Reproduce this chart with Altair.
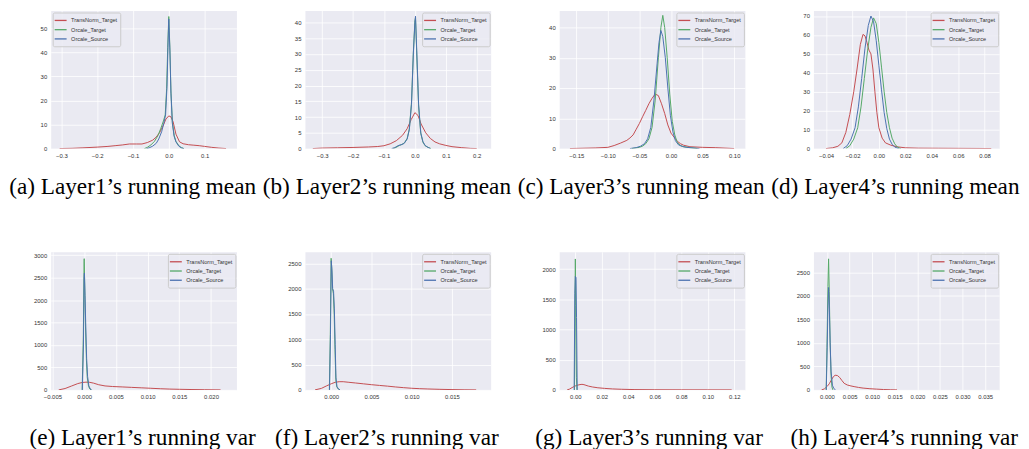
import altair as alt
import pandas as pd

SERIES = ["TransNorm_Target", "Orcale_Target", "Orcale_Source"]
COLORS = ["#C44E52", "#55A868", "#4C72B0"]

# ---------------- (a) Layer1 running mean ----------------
a_red_x = [-0.305, -0.27, -0.24, -0.2, -0.17, -0.15, -0.13, -0.11, -0.09, -0.075, -0.06, -0.045, -0.035, -0.025, -0.015, -0.008, 0.0, 0.006, 0.012, 0.02, 0.03, 0.04, 0.055, 0.07, 0.085, 0.1, 0.12, 0.14, 0.16]
a_red_y = [0.0, 0.1, 0.3, 0.6, 0.9, 1.2, 1.5, 1.9, 1.9, 1.9, 2.5, 3.5, 4.8, 6.8, 9.8, 12.3, 13.6, 13.2, 11.2, 6.0, 2.8, 2.0, 1.6, 1.4, 1.2, 0.9, 0.5, 0.2, 0.0]
a_green_x = [-0.068, -0.06, -0.05, -0.04, -0.03, -0.022, -0.015, -0.01, -0.006, -0.003, 0.0, 0.003, 0.006, 0.01, 0.015, 0.02, 0.028, 0.035, 0.042]
a_green_y = [0.0, 0.5, 1.5, 3.0, 5.5, 8.5, 11.5, 14.0, 25.0, 42.0, 55.0, 42.0, 24.0, 11.0, 5.5, 3.0, 1.2, 0.4, 0.0]
a_blue_x = [-0.062, -0.055, -0.045, -0.035, -0.028, -0.02, -0.014, -0.009, -0.005, -0.002, 0.0, 0.003, 0.006, 0.01, 0.015, 0.02, 0.028, 0.035, 0.042]
a_blue_y = [0.0, 0.3, 1.0, 2.2, 4.0, 7.0, 10.5, 14.0, 26.0, 44.0, 54.0, 41.0, 23.0, 10.5, 5.0, 2.8, 1.0, 0.3, 0.0]

# ---------------- (b) Layer2 running mean ----------------
b_red_x = [-0.33, -0.3, -0.25, -0.2, -0.15, -0.12, -0.1, -0.08, -0.06, -0.04, -0.025, -0.012, 0.0, 0.01, 0.02, 0.035, 0.05, 0.065, 0.08, 0.1, 0.12, 0.15, 0.18, 0.2]
b_red_y = [0.0, 0.15, 0.25, 0.35, 0.5, 0.65, 0.9, 1.5, 2.5, 4.2, 6.3, 9.2, 11.4, 10.5, 7.8, 5.0, 3.2, 2.1, 1.5, 1.0, 0.6, 0.3, 0.05, 0.0]
b_green_x = [-0.07, -0.06, -0.05, -0.042, -0.034, -0.025, -0.018, -0.011, -0.005, 0.0, 0.002, 0.006, 0.012, 0.019, 0.026, 0.033, 0.042, 0.052]
b_green_y = [0.0, 0.4, 1.0, 1.3, 1.8, 3.2, 6.2, 14.5, 30.5, 40.5, 41.5, 30.0, 13.5, 4.8, 2.0, 0.9, 0.4, 0.0]
b_blue_x = [-0.075, -0.065, -0.055, -0.045, -0.035, -0.025, -0.018, -0.011, -0.005, 0.0, 0.002, 0.006, 0.012, 0.019, 0.026, 0.033, 0.042, 0.05]
b_blue_y = [0.0, 0.3, 0.9, 1.2, 1.6, 3.0, 6.0, 14.0, 30.0, 40.0, 42.0, 31.0, 14.0, 5.0, 2.2, 1.0, 0.4, 0.0]

# ---------------- (c) Layer3 running mean ----------------
c_red_x = [-0.16, -0.12, -0.1, -0.09, -0.08, -0.07, -0.065, -0.06, -0.055, -0.05, -0.045, -0.04, -0.035, -0.03, -0.025, -0.02, -0.015, -0.01, -0.005, 0.0, 0.005, 0.01, 0.015, 0.02, 0.03, 0.05, 0.07, 0.1]
c_red_y = [0.0, 0.2, 0.4, 1.0, 1.8, 2.7, 3.5, 4.5, 6.4, 8.3, 10.5, 12.6, 14.8, 16.6, 18.0, 17.5, 14.8, 11.6, 7.8, 5.1, 3.7, 2.4, 1.6, 1.1, 0.6, 0.4, 0.3, 0.0]
c_green_x = [-0.062, -0.05, -0.045, -0.04, -0.035, -0.03, -0.025, -0.02, -0.016, -0.013, -0.01, -0.006, -0.002, 0.002, 0.006, 0.01, 0.015, 0.02, 0.03, 0.042]
c_green_y = [0.0, 0.4, 0.8, 1.6, 3.2, 7.0, 16.0, 30.0, 40.0, 44.0, 40.0, 30.0, 18.0, 9.0, 4.5, 2.0, 1.0, 0.6, 0.3, 0.0]
c_blue_x = [-0.065, -0.055, -0.048, -0.042, -0.037, -0.032, -0.027, -0.022, -0.019, -0.016, -0.013, -0.009, -0.005, -0.001, 0.003, 0.007, 0.012, 0.018, 0.025, 0.035, 0.045]
c_blue_y = [0.0, 0.3, 0.8, 1.6, 3.2, 7.0, 16.0, 28.0, 35.0, 39.0, 37.0, 30.0, 20.0, 11.0, 5.5, 2.6, 1.2, 0.7, 0.4, 0.2, 0.0]

# ---------------- (d) Layer4 running mean ----------------
d_red_x = [-0.04, -0.035, -0.031, -0.028, -0.025, -0.022, -0.019, -0.0165, -0.014, -0.012, -0.0105, -0.009, -0.0075, -0.006, -0.0045, -0.003, -0.0015, 0.0, 0.0025, 0.005, 0.009, 0.014, 0.02, 0.03, 0.045, 0.06, 0.075, 0.085]
d_red_y = [0.0, 0.4, 1.2, 3.0, 8.5, 18.0, 30.0, 42.0, 55.0, 60.3, 59.5, 56.0, 52.0, 50.0, 42.0, 30.0, 19.0, 11.0, 5.5, 3.0, 1.8, 0.9, 0.4, 0.2, 0.15, 0.1, 0.05, 0.0]
d_green_x = [-0.025, -0.022, -0.019, -0.016, -0.0135, -0.011, -0.0085, -0.006, -0.004, -0.002, 0.0, 0.002, 0.004, 0.006, 0.008, 0.01, 0.012, 0.014, 0.0165]
d_green_y = [0.0, 1.5, 5.0, 11.0, 22.0, 37.0, 52.0, 64.0, 69.0, 66.0, 56.0, 43.0, 30.0, 19.0, 11.0, 5.5, 2.5, 0.8, 0.0]
d_blue_x = [-0.027, -0.024, -0.021, -0.018, -0.0155, -0.013, -0.0105, -0.008, -0.006, -0.004, -0.002, 0.0, 0.002, 0.004, 0.006, 0.008, 0.01, 0.012, 0.015]
d_blue_y = [0.0, 1.5, 5.0, 11.0, 22.0, 37.0, 53.0, 65.0, 70.0, 67.0, 57.0, 44.0, 31.0, 19.0, 10.5, 5.0, 2.3, 0.8, 0.0]

# ---------------- (e) Layer1 running var ----------------
e_red_x = [-0.004, -0.003, -0.002, -0.001, -0.0003, 0.0003, 0.0009, 0.0015, 0.0023, 0.0033, 0.0045, 0.006, 0.0075, 0.009, 0.0105, 0.012, 0.0135, 0.015, 0.017, 0.019, 0.0215]
e_red_y = [0.0, 30.0, 85.0, 140.0, 165.0, 172.0, 168.0, 150.0, 115.0, 88.0, 75.0, 66.0, 56.0, 46.0, 36.0, 26.0, 18.0, 13.0, 8.0, 4.0, 0.0]
e_green_x = [-0.0003, -0.00012, 0.0, 0.00002, 0.00012, 0.00022, 0.00037, 0.0005, 0.0007, 0.0009, 0.0011]
e_green_y = [0.0, 1200.0, 2850.0, 2920.0, 2200.0, 1400.0, 650.0, 280.0, 80.0, 20.0, 0.0]
e_blue_x = [-0.00028, -0.0001, 0.0, 0.00005, 0.00015, 0.00025, 0.0004, 0.00055, 0.00075, 0.00095, 0.0012]
e_blue_y = [0.0, 1000.0, 2500.0, 2600.0, 2100.0, 1500.0, 700.0, 300.0, 90.0, 30.0, 0.0]

# ---------------- (f) Layer2 running var ----------------
f_red_x = [-0.002, -0.0012, -0.0006, 0.0, 0.0005, 0.001, 0.0015, 0.0022, 0.003, 0.004, 0.005, 0.006, 0.007, 0.008, 0.009, 0.01, 0.011, 0.012, 0.0135, 0.015, 0.0165, 0.018]
f_red_y = [0.0, 30.0, 77.0, 120.0, 150.0, 162.0, 162.0, 150.0, 137.0, 120.0, 103.0, 88.0, 74.0, 58.0, 44.0, 32.0, 24.0, 18.0, 11.0, 6.0, 2.0, 0.0]
f_green_x = [-0.00022, -0.0001, 0.0, 0.00008, 0.00017, 0.00028, 0.00038, 0.00048, 0.00058, 0.0007, 0.0009, 0.0011]
f_green_y = [0.0, 1100.0, 2600.0, 2400.0, 2000.0, 1900.0, 1500.0, 800.0, 200.0, 60.0, 15.0, 0.0]
f_blue_x = [-0.0002, -0.00008, 0.00002, 0.0001, 0.00019, 0.0003, 0.0004, 0.0005, 0.0006, 0.00072, 0.0009, 0.0011]
f_blue_y = [0.0, 1100.0, 2550.0, 2350.0, 2000.0, 1950.0, 1600.0, 900.0, 250.0, 70.0, 20.0, 0.0]

# ---------------- (g) Layer3 running var ----------------
g_red_x = [-0.0062, -0.0045, -0.0025, -0.001, 0.0005, 0.002, 0.0035, 0.005, 0.0065, 0.008, 0.01, 0.013, 0.017, 0.022, 0.028, 0.035, 0.045, 0.06, 0.08, 0.1, 0.118]
g_red_y = [0.0, 12.0, 38.0, 55.0, 70.0, 80.0, 88.0, 92.0, 87.0, 76.0, 62.0, 48.0, 35.0, 25.0, 16.0, 10.0, 5.0, 2.5, 1.2, 0.5, 0.0]
g_green_x = [-0.0006, -0.0002, 0.0, 0.0003, 0.0008, 0.0012]
g_green_y = [0.0, 1500.0, 2170.0, 1400.0, 200.0, 0.0]
g_blue_x = [-0.0009, -0.0004, 0.0, 0.0005, 0.0009, 0.0014]
g_blue_y = [0.0, 1600.0, 1880.0, 1860.0, 1200.0, 0.0]

# ---------------- (h) Layer4 running var ----------------
h_red_x = [-0.0012, -0.0006, 0.0, 0.0005, 0.001, 0.0014, 0.0018, 0.0023, 0.0028, 0.0033, 0.0038, 0.0045, 0.0053, 0.006, 0.007, 0.008, 0.0095, 0.011, 0.0125, 0.014, 0.0155]
h_red_y = [0.0, 20.0, 70.0, 130.0, 215.0, 280.0, 312.0, 306.0, 265.0, 200.0, 140.0, 104.0, 84.0, 70.0, 52.0, 38.0, 25.0, 16.0, 8.0, 3.0, 0.0]
h_green_x = [-0.00018, 0.0, 0.0002, 0.00035, 0.0005, 0.0007, 0.0009, 0.0011, 0.0013]
h_green_y = [0.0, 900.0, 2200.0, 2790.0, 2100.0, 1000.0, 300.0, 60.0, 0.0]
h_blue_x = [-0.00015, 0.0, 0.0002, 0.00035, 0.0005, 0.0007, 0.0009, 0.0012, 0.0015, 0.0019]
h_blue_y = [0.0, 700.0, 1700.0, 2180.0, 1800.0, 1000.0, 400.0, 100.0, 30.0, 0.0]

# axis settings per panel
x_domains = {
    "a": [-0.33, 0.189], "b": [-0.3555, 0.245], "c": [-0.177, 0.117], "d": [-0.0495, 0.091],
    "e": [-0.00526, 0.024], "f": [-0.00325, 0.0198], "g": [-0.0122, 0.128], "h": [-0.003, 0.0381],
}
y_domains = {
    "a": [0, 57.5], "b": [0, 43.8], "c": [0, 45.6], "d": [0, 72.9],
    "e": [0, 3072], "f": [0, 2727], "g": [0, 2288], "h": [0, 2939],
}
x_ticks = {
    "a": [-0.3, -0.2, -0.1, 0.0, 0.1],
    "b": [-0.3, -0.2, -0.1, 0.0, 0.1, 0.2],
    "c": [-0.15, -0.10, -0.05, 0.0, 0.05, 0.10],
    "d": [-0.04, -0.02, 0.0, 0.02, 0.04, 0.06, 0.08],
    "e": [-0.005, 0.0, 0.005, 0.010, 0.015, 0.020],
    "f": [0.0, 0.005, 0.010, 0.015, 0.020],
    "g": [0.0, 0.02, 0.04, 0.06, 0.08, 0.10, 0.12],
    "h": [0.0, 0.005, 0.010, 0.015, 0.020, 0.025, 0.030, 0.035],
}
x_formats = {"a": ".1f", "b": ".1f", "c": ".2f", "d": ".2f", "e": ".3f", "f": ".3f", "g": ".2f", "h": ".3f"}
y_ticks = {
    "a": [0, 10, 20, 30, 40, 50],
    "b": [0, 5, 10, 15, 20, 25, 30, 35, 40],
    "c": [0, 10, 20, 30, 40],
    "d": [0, 10, 20, 30, 40, 50, 60, 70],
    "e": [0, 500, 1000, 1500, 2000, 2500, 3000],
    "f": [0, 500, 1000, 1500, 2000, 2500],
    "g": [0, 500, 1000, 1500, 2000],
    "h": [0, 500, 1000, 1500, 2000, 2500],
}
captions = {
    "a": "(a) Layer1\u2019s running mean", "b": "(b) Layer2\u2019s running mean",
    "c": "(c) Layer3\u2019s running mean", "d": "(d) Layer4\u2019s running mean",
    "e": "(e) Layer1\u2019s running var", "f": "(f) Layer2\u2019s running var",
    "g": "(g) Layer3\u2019s running var", "h": "(h) Layer4\u2019s running var",
}
caption_dx = {"a": -11, "b": -11, "c": -11, "d": -11, "e": -1, "f": -11, "g": -3, "h": -2}

data = {
    "a": (a_red_x, a_red_y, a_green_x, a_green_y, a_blue_x, a_blue_y),
    "b": (b_red_x, b_red_y, b_green_x, b_green_y, b_blue_x, b_blue_y),
    "c": (c_red_x, c_red_y, c_green_x, c_green_y, c_blue_x, c_blue_y),
    "d": (d_red_x, d_red_y, d_green_x, d_green_y, d_blue_x, d_blue_y),
    "e": (e_red_x, e_red_y, e_green_x, e_green_y, e_blue_x, e_blue_y),
    "f": (f_red_x, f_red_y, f_green_x, f_green_y, f_blue_x, f_blue_y),
    "g": (g_red_x, g_red_y, g_green_x, g_green_y, g_blue_x, g_blue_y),
    "h": (h_red_x, h_red_y, h_green_x, h_green_y, h_blue_x, h_blue_y),
}

PW, PH = 187, 139


def panel(key):
    rx, ry, gx, gy, bx, by = data[key]
    rows = []
    for name, xs, ys in ((SERIES[0], rx, ry), (SERIES[1], gx, gy), (SERIES[2], bx, by)):
        for xv, yv in zip(xs, ys):
            rows.append({"x": xv, "y": yv, "series": name})
    df = pd.DataFrame(rows)
    top = key in "abcd"
    title = alt.TitleParams(
        text=captions[key], orient="bottom", frame="group", anchor="middle",
        baseline="alphabetic", offset=36 if top else 45, dx=caption_dx[key],
        font="Liberation Serif", fontSize=23.4, fontWeight="normal", color="#000000",
    )
    return alt.Chart(df, title=title).mark_line(strokeWidth=1, clip=True).encode(
        x=alt.X("x:Q", title=None,
                scale=alt.Scale(domain=x_domains[key], nice=False, zero=False),
                axis=alt.Axis(values=x_ticks[key], format=x_formats[key])),
        y=alt.Y("y:Q", title=None,
                scale=alt.Scale(domain=y_domains[key], nice=False, zero=False),
                axis=alt.Axis(values=y_ticks[key], format="d")),
        color=alt.Color("series:N", title=None, sort=SERIES,
                        scale=alt.Scale(domain=SERIES, range=COLORS),
                        legend=alt.Legend(orient="top-left" if key == "a" else "top-right")),
    ).properties(width=PW, height=PH)


chart = alt.concat(
    *[panel(k) for k in "abcdefgh"], columns=4, spacing={"row": 104, "column": 69}, bounds="flush"
).resolve_scale(
    x="independent", y="independent", color="independent"
).properties(
    padding=0, background="#ffffff"
).configure_view(
    fill="#EAEAF2", stroke="transparent"
).configure_axis(
    domain=False, ticks=False, grid=True, gridColor="#ffffff", gridWidth=0.8, gridOpacity=1,
    labelFont="Liberation Sans", labelFontSize=6, labelColor="#333333", labelPadding=4,
    labelOverlap=False, labelFlush=False,
).configure_legend(
    labelFont="Liberation Sans", labelFontSize=5.6, labelColor="#333333",
    fillColor="rgba(234,234,242,0.8)", strokeColor="#cccccc", cornerRadius=1.5,
    padding=3, offset=1.5, symbolType="M-1.5,0H1.5", symbolSize=64, symbolStrokeWidth=1.3,
    rowPadding=0.3, labelOffset=5.5,
)

chart.save("out.html", embed_options={"renderer": "svg", "actions": False})
